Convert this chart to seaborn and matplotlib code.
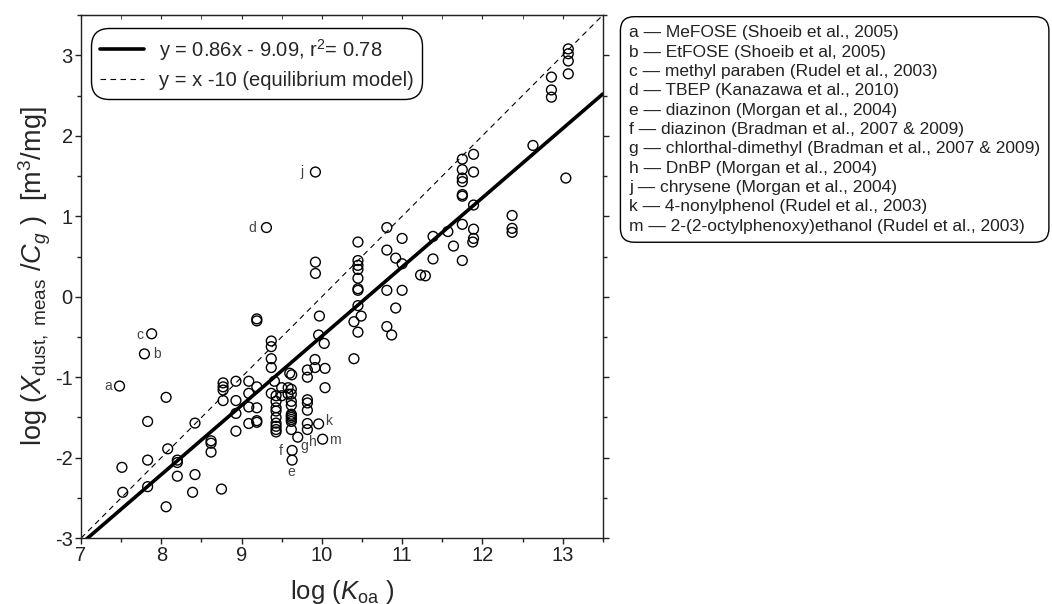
import numpy as np
import pandas as pd
import matplotlib
matplotlib.use('Agg')
import matplotlib.pyplot as plt
import seaborn as sns
from matplotlib.ticker import MultipleLocator

# measured log(Koa) vs log(Xdust/Cg)
log_koa = [7.48, 7.79, 7.88, 9.31, 9.92, 9.63, 9.63, 9.96, 10.01,
           7.51, 7.52, 7.83, 7.83, 7.83, 8.06, 8.08, 8.06, 8.20, 8.20, 8.20,
           8.42, 8.42, 8.39, 8.62, 8.62, 8.62, 8.75,
           8.77, 8.77, 8.77, 8.77, 8.93, 8.93, 8.93, 8.93,
           9.09, 9.09, 9.09, 9.09, 9.19, 9.19, 9.19, 9.19, 9.19, 9.19,
           9.37, 9.37, 9.37, 9.37, 9.37, 9.41,
           9.43, 9.43, 9.43, 9.43, 9.43, 9.43, 9.43, 9.43, 9.43,
           9.50, 9.50, 9.58, 9.58,
           9.60, 9.625, 9.62, 9.62, 9.62, 9.62, 9.62, 9.62, 9.62, 9.62, 9.62, 9.62,
           9.70, 9.82, 9.82, 9.82, 9.82, 9.82, 9.82, 9.82,
           9.915, 9.915, 9.97, 9.96, 10.03, 10.04, 10.04, 9.92, 9.92,
           10.40, 10.40, 10.45, 10.49, 10.45,
           10.45, 10.45, 10.45, 10.45, 10.45, 10.45, 10.45,
           10.81, 10.81, 10.81, 10.81, 10.87, 10.92, 10.92, 11.0, 11.0, 11.0,
           11.23, 11.29, 11.385, 11.385, 11.57, 11.64,
           11.75, 11.75, 11.75, 11.75, 11.75, 11.75, 11.75, 11.75,
           11.89, 11.89, 11.89, 11.89, 11.89, 11.88,
           12.37, 12.37, 12.37, 12.63, 12.86, 12.86, 12.86,
           13.07, 13.07, 13.07, 13.07, 13.04]
log_x_cg = [-1.11, -0.71, -0.46, 0.86, 1.55, -2.03, -1.91, -1.58, -1.77,
            -2.12, -2.43, -1.55, -2.03, -2.36, -1.25, -1.89, -2.61, -2.03, -2.06, -2.23,
            -1.57, -2.21, -2.43, -1.79, -1.82, -1.93, -2.39,
            -1.07, -1.12, -1.16, -1.29, -1.05, -1.29, -1.45, -1.67,
            -1.05, -1.20, -1.37, -1.575, -0.275, -0.30, -1.12, -1.38, -1.54, -1.56,
            -0.55, -0.62, -0.77, -0.88, -1.20, -1.05,
            -1.23, -1.30, -1.38, -1.42, -1.50, -1.57, -1.61, -1.65, -1.68,
            -1.13, -1.23, -1.13, -1.21,
            -0.95, -0.97, -1.15, -1.21, -1.30, -1.35, -1.46, -1.48, -1.50, -1.525, -1.55, -1.65,
            -1.745, -0.91, -1.0, -1.28, -1.32, -1.41, -1.575, -1.65,
            -0.78, -0.88, -0.24, -0.475, -0.58, -0.89, -1.13, 0.43, 0.29,
            -0.31, -0.77, -0.11, -0.24, -0.44,
            0.68, 0.45, 0.39, 0.34, 0.23, 0.10, 0.08,
            0.86, 0.58, 0.08, -0.37, -0.475, 0.48, -0.14, 0.725, 0.41, 0.08,
            0.27, 0.26, 0.75, 0.47, 0.81, 0.63,
            1.71, 1.58, 1.475, 1.43, 1.27, 1.25, 0.90, 0.45,
            1.77, 1.55, 1.14, 0.84, 0.725, 0.68,
            1.01, 0.85, 0.80, 1.88, 2.73, 2.57, 2.48,
            3.08, 3.02, 2.93, 2.77, 1.475]

fit_slope, fit_icpt = 0.86, -9.09
eq_slope, eq_icpt = 1.0, -10.0

point_tags = ['a', 'b', 'c', 'd', 'j', 'e', 'f', 'g', 'h', 'k', 'm']
tag_x = [7.335, 7.95, 7.73, 9.13, 9.75, 9.625, 9.49, 9.78, 9.885, 10.09, 10.16]
tag_y = [-1.11, -0.71, -0.475, 0.86, 1.55, -2.18, -1.92, -1.85, -1.80, -1.545, -1.775]

source_lines = [
    'a \u2014 MeFOSE (Shoeib et al., 2005)',
    'b \u2014 EtFOSE (Shoeib et al, 2005)',
    'c \u2014 methyl paraben (Rudel et al., 2003)',
    'd \u2014 TBEP (Kanazawa et al., 2010)',
    'e \u2014 diazinon (Morgan et al., 2004)',
    'f \u2014 diazinon (Bradman et al., 2007 & 2009)',
    'g \u2014 chlorthal-dimethyl (Bradman et al., 2007 & 2009)',
    'h \u2014 DnBP (Morgan et al., 2004)',
    'j \u2014 chrysene (Morgan et al., 2004)',
    'k \u2014 4-nonylphenol (Rudel et al., 2003)',
    'm \u2014 2-(2-octylphenoxy)ethanol (Rudel et al., 2003)',
]

sns.set_style('white')
plt.rcParams['font.family'] = ['Liberation Sans', 'DejaVu Sans']
plt.rcParams['mathtext.fontset'] = 'custom'
plt.rcParams['mathtext.rm'] = 'Liberation Sans'
plt.rcParams['mathtext.it'] = 'Liberation Sans:italic'
plt.rcParams['axes.unicode_minus'] = False

df = pd.DataFrame({'koa': log_koa, 'xd': log_x_cg})

fig = plt.figure(figsize=(10.52, 6.04), dpi=100)
ax = fig.add_axes([0.077, 0.109, 0.496, 0.866])

xlim = (7, 13.5)
line_x = np.array(xlim)
lines = pd.DataFrame({
    'x': np.concatenate([line_x, line_x]),
    'y': np.concatenate([fit_slope * line_x + fit_icpt, eq_slope * line_x + eq_icpt]),
    'kind': ['fit', 'fit', 'eq', 'eq'],
})

sns.lineplot(data=lines[lines.kind == 'fit'], x='x', y='y', color='black', lw=2.6,
             ax=ax, label='y = 0.86x - 9.09, r$^2$= 0.78')
sns.lineplot(data=lines[lines.kind == 'eq'], x='x', y='y', color='black', lw=0.8,
             ax=ax, label='y = x -10 (equilibrium model)')
ax.lines[1].set_dashes((5, 4))

sns.scatterplot(data=df, x='koa', y='xd', marker='o', s=50, facecolors='none',
                edgecolor='black', linewidth=1.0, ax=ax, zorder=3)

for t, tx, ty in zip(point_tags, tag_x, tag_y):
    ax.text(tx, ty, t, ha='center', va='center', fontsize=10, color='#444444')

ax.set_xlim(*xlim)
ax.set_ylim(-3, 3.5)
ax.xaxis.set_major_locator(MultipleLocator(1))
ax.xaxis.set_minor_locator(MultipleLocator(0.5))
ax.yaxis.set_major_locator(MultipleLocator(1))
ax.yaxis.set_minor_locator(MultipleLocator(0.5))
ax.tick_params(which='both', direction='out', labelsize=14.5, width=1, colors='#222222',
               bottom=True, left=True, right=True, top=False)
ax.tick_params(which='major', length=4, pad=2)
ax.tick_params(which='minor', length=3)

top = ax.secondary_xaxis('top')
top.xaxis.set_major_locator(MultipleLocator(1))
top.xaxis.set_minor_locator(MultipleLocator(0.5))
top.tick_params(which='both', direction='in', length=3, labeltop=False)

for s in ax.spines.values():
    s.set_linewidth(1.0)
    s.set_color('#222222')

ax.set_xlabel(r'log ($K_{\mathrm{oa}}$ )', fontsize=18.5, labelpad=9)
ax.set_ylabel(r'log ($X_{\mathrm{dust,\ meas}}$ /$C_g$ )  [m$^3$/mg]', fontsize=19.5, labelpad=1)

leg = ax.legend(loc='upper left', bbox_to_anchor=(0.0, 0.995), fontsize=14.5,
                frameon=True, fancybox=True, edgecolor='black', framealpha=1,
                handlelength=2.2, handletextpad=0.7, labelspacing=0.42, borderpad=0.45)
leg.get_frame().set_linewidth(1.0)
leg.get_frame().set_boxstyle('round', pad=0.0, rounding_size=0.9)

fig.text(0.598, 0.958, '\n'.join(source_lines), ha='left', va='top', fontsize=12.5,
         linespacing=1.36, color='#222222',
         bbox=dict(boxstyle='round,pad=0.5,rounding_size=0.8', fc='white', ec='black', lw=1))

fig.savefig('out.png', dpi=100)
